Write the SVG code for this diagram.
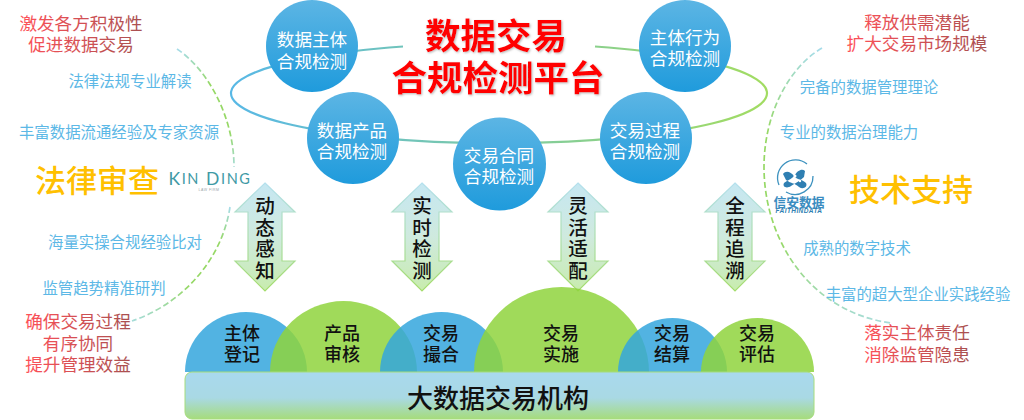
<svg xmlns="http://www.w3.org/2000/svg" width="1024" height="420" viewBox="0 0 1024 420">
<defs>
<linearGradient id="ball" x1="0" y1="0" x2="0" y2="1"><stop offset="0" stop-color="#5cb5e4"/><stop offset="1" stop-color="#1f9bdc"/></linearGradient>
<linearGradient id="ring" gradientUnits="userSpaceOnUse" x1="229" y1="0" x2="766" y2="0"><stop offset="0" stop-color="#58b8e6"/><stop offset="1" stop-color="#a2dc62"/></linearGradient>
<linearGradient id="arrow" x1="0" y1="0" x2="0" y2="1"><stop offset="0" stop-color="#c6e7f2"/><stop offset="0.5" stop-color="#cfeade"/><stop offset="1" stop-color="#c8ecae"/></linearGradient>
<linearGradient id="arrowS" x1="0" y1="0" x2="0" y2="1"><stop offset="0" stop-color="#b4e0ee"/><stop offset="1" stop-color="#a4dc6c"/></linearGradient>
<linearGradient id="bar" x1="0" y1="0" x2="0" y2="1"><stop offset="0" stop-color="#a9d9ee"/><stop offset="0.55" stop-color="#a9d9e4"/><stop offset="1" stop-color="#a6dc7c"/></linearGradient>
<linearGradient id="red" x1="0" y1="0" x2="1" y2="0"><stop offset="0" stop-color="#ff5058"/><stop offset="1" stop-color="#a85050"/></linearGradient>
<linearGradient id="dash" x1="0" y1="0" x2="0" y2="1"><stop offset="0" stop-color="#a6dcea"/><stop offset="0.3" stop-color="#96d866"/><stop offset="0.7" stop-color="#96d866"/><stop offset="1" stop-color="#a6dcd8"/></linearGradient>
<filter id="shadow" x="-10%" y="-20%" width="120%" height="140%"><feDropShadow dx="1" dy="1" stdDeviation="1.2" flood-color="#888888" flood-opacity="0.6"/></filter>
<path id="dbl" d="M0 0L30 29H17V78H30L0 108L-30 78H-17V29H-30Z"/>
</defs>
<style>
text{font-family:"Noto Sans CJK SC","Liberation Sans",sans-serif;text-anchor:middle;dominant-baseline:central}
.ball{fill:url(#ball)}
.w{fill:#fff;font-size:17.6px}
.a{fill:url(#arrow);stroke:url(#arrowS);stroke-width:1.2}
.k{fill:#111;font-size:19.5px;font-weight:500}
.d{fill:#111;font-size:18px;font-weight:500}
.b{fill:#34a6dd;fill-opacity:.85}
.g{fill:#8fd43d;fill-opacity:.85}
.r{fill:url(#red);font-size:17.6px}
.s{fill:#5cb8e6;font-size:15.4px}
.y{fill:#ffc000;font-size:31px;font-weight:500}
.t{fill:#f00;font-size:35.5px;font-weight:700;filter:url(#shadow)}
.dl{fill:none;stroke:url(#dash);stroke-width:1.7;stroke-dasharray:6 3}
</style>
<g id="connectors">
<path d="M595 46.500A268 50 0 1 1 403 46.500" fill="none" stroke="url(#ring)" stroke-width="2.2"/>
<path class="dl" d="M177 49C206 68 234 115 234 167"/>
<path class="dl" d="M230 207C222 260 182 304 132 321"/>
<path class="dl" d="M822 48C788 68 764 115 764 167C764 240 810 312 891 323"/>
</g>
<g id="title"><text class="t"><tspan x="496" y="33">数据交易</tspan><tspan x="498" y="75">合规检测平台</tspan></text></g>
<g id="n1"><circle class="ball" cx="312" cy="46" r="46"/><text class="w"><tspan x="312" y="38">数据主体</tspan><tspan x="312" y="60">合规检测</tspan></text></g>
<g id="n2"><circle class="ball" cx="353" cy="138" r="46"/><text class="w"><tspan x="352" y="129">数据产品</tspan><tspan x="352" y="150">合规检测</tspan></text></g>
<g id="n3"><circle class="ball" cx="499.500" cy="164" r="46.500"/><text class="w"><tspan x="499" y="154">交易合同</tspan><tspan x="499" y="175">合规检测</tspan></text></g>
<g id="n4"><circle class="ball" cx="646" cy="138" r="46"/><text class="w"><tspan x="645" y="129">交易过程</tspan><tspan x="645" y="150">合规检测</tspan></text></g>
<g id="n5"><circle class="ball" cx="685" cy="46" r="46"/><text class="w"><tspan x="685" y="36">主体行为</tspan><tspan x="685" y="57">合规检测</tspan></text></g>
<g id="a1"><use class="a" href="#dbl" x="265" y="183"/><text class="k"><tspan x="265" y="204">动</tspan><tspan x="265" y="226">态</tspan><tspan x="265" y="247">感</tspan><tspan x="265" y="269">知</tspan></text></g>
<g id="a2"><use class="a" href="#dbl" x="422" y="183"/><text class="k"><tspan x="422" y="204">实</tspan><tspan x="422" y="226">时</tspan><tspan x="422" y="247">检</tspan><tspan x="422" y="269">测</tspan></text></g>
<g id="a3"><use class="a" href="#dbl" x="578" y="183"/><text class="k"><tspan x="578" y="204">灵</tspan><tspan x="578" y="226">活</tspan><tspan x="578" y="247">适</tspan><tspan x="578" y="269">配</tspan></text></g>
<g id="a4"><use class="a" href="#dbl" x="735" y="183"/><text class="k"><tspan x="735" y="204">全</tspan><tspan x="735" y="226">程</tspan><tspan x="735" y="247">追</tspan><tspan x="735" y="269">溯</tspan></text></g>
<g id="p1"><path class="b" d="M185 372A61 60 0 0 1 307 372Z"/></g>
<g id="p2"><path class="g" d="M270 372A73.500 71 0 0 1 417 372Z"/></g>
<g id="p3"><path class="b" d="M380 372A61.500 60 0 0 1 503 372Z"/></g>
<g id="p4"><path class="g" d="M474 372A87.500 85 0 0 1 649 372Z"/></g>
<g id="p5"><path class="b" d="M618 372A54.500 54 0 0 1 727 372Z"/></g>
<g id="p6"><path class="g" d="M701 372A56.500 54 0 0 1 814 372Z"/></g>
<g id="ptext">
<text class="d"><tspan x="242" y="332">主体</tspan><tspan x="242" y="353">登记</tspan></text>
<text class="d"><tspan x="342" y="332">产品</tspan><tspan x="342" y="353">审核</tspan></text>
<text class="d"><tspan x="441" y="332">交易</tspan><tspan x="441" y="353">撮合</tspan></text>
<text class="d"><tspan x="561" y="332">交易</tspan><tspan x="561" y="353">实施</tspan></text>
<text class="d"><tspan x="672" y="332">交易</tspan><tspan x="672" y="353">结算</tspan></text>
<text class="d"><tspan x="757" y="332">交易</tspan><tspan x="757" y="353">评估</tspan></text>
</g>
<g id="base"><rect x="185" y="372" width="629" height="47" rx="7" fill="url(#bar)" stroke="#a6dc7c" stroke-width="1"/><text x="498" y="396" fill="#111" font-size="26" font-weight="500">大数据交易机构</text></g>
<g id="left">
<text class="r"><tspan x="81" y="22">激发各方积极性</tspan><tspan x="81" y="43">促进数据交易</tspan></text>
<text class="s" x="130" y="80">法律法规专业解读</text>
<text class="s" x="119" y="131">丰富数据流通经验及专家资源</text>
<text class="y" x="97" y="178">法律审查</text>
<text class="s" x="125" y="241">海量实操合规经验比对</text>
<text class="s" x="104" y="287">监管趋势精准研判</text>
<text class="r"><tspan x="78" y="320">确保交易过程</tspan><tspan x="78" y="342">有序协同</tspan><tspan x="78" y="363">提升管理效益</tspan></text>
</g>
<g id="logo-kinding">
<text x="210" y="178" fill="#3f9aa5" font-size="17.500" letter-spacing="1.600" style="font-family:Lato,'Liberation Sans',sans-serif">K<tspan font-size="14.500">IN</tspan> D<tspan font-size="14.500">ING</tspan></text>
<text x="209" y="190" fill="#9aa5a8" font-size="3.500" letter-spacing=".5" style="font-family:'Liberation Sans',sans-serif">LAW FIRM</text>
</g>
<g id="logo-faith">
<path d="M807 164A18 18 0 0 0 779 185M786 192A18 18 0 0 0 813 176" fill="none" stroke="#3d92bf" stroke-width="1.300"/>
<path d="M783 174C786 170 791 172 794 176C797 180 802 179 806 183C808 187 803 190 799 187C795 183 790 183 786 180Z M805 171C802 168 797 171 795 175C792 179 788 180 784 183C782 187 787 189 791 186C795 183 800 181 804 177Z" fill="#2f7fb2"/>
<circle cx="795" cy="176" r="1.500" fill="#fff"/><circle cx="790" cy="181" r="1.200" fill="#fff"/><circle cx="800" cy="181" r="1.200" fill="#fff"/>
<text x="799" y="201" fill="#3a8cc0" font-size="12.800" font-weight="700">信安数据</text>
<text x="799" y="210.500" fill="#2f7fb2" font-size="6.500" font-weight="700" font-style="italic" letter-spacing=".4" style="font-family:'Liberation Sans',sans-serif">FAITHINDATA</text>
</g>
<g id="right">
<text class="r"><tspan x="917" y="21">释放供需潜能</tspan><tspan x="917" y="42">扩大交易市场规模</tspan></text>
<text class="s" x="869" y="86">完备的数据管理理论</text>
<text class="s" x="849" y="131">专业的数据治理能力</text>
<text class="y" x="911" y="187">技术支持</text>
<text class="s" x="857" y="247">成熟的数字技术</text>
<text class="s" x="918" y="293">丰富的超大型企业实践经验</text>
<text class="r"><tspan x="917" y="331">落实主体责任</tspan><tspan x="917" y="353">消除监管隐患</tspan></text>
</g>
</svg>
